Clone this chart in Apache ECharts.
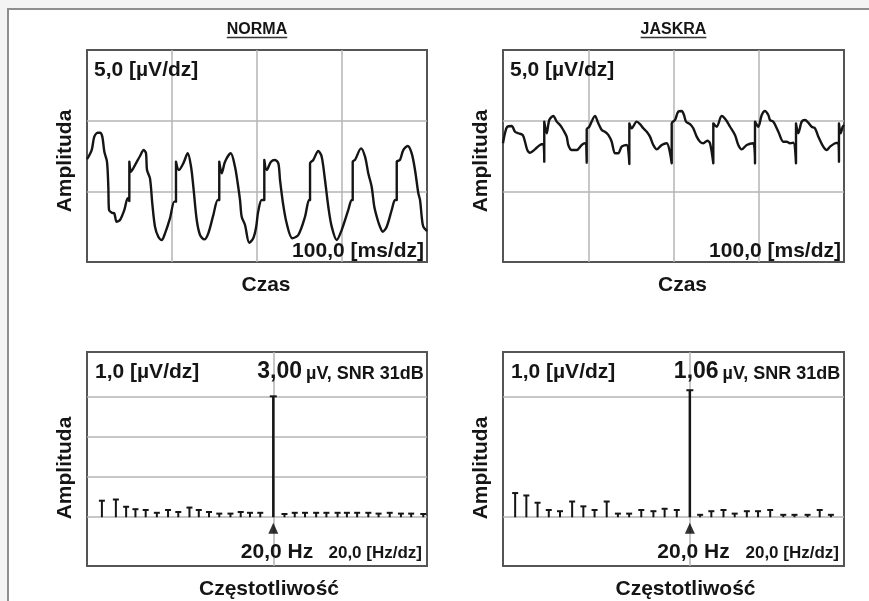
<!DOCTYPE html>
<html>
<head>
<meta charset="utf-8">
<script src="https://cdn.jsdelivr.net/npm/echarts@6/dist/echarts.min.js"></script>
<style>
  html, body { margin: 0; padding: 0; background: #fff; }
  #main { width: 869px; height: 601px; }
</style>
</head>
<body>
<div id="main"></div>
<script>
// ---- data ----
// time traces: [ms, µV], artefact spikes drawn as two points at the same time
var normaWave = [
  [0,-0.23],[5.5,0.42],[8.6,1.37],[12.6,1.65],[15.3,1.65],[18.0,1.37],[20.4,0.30],[23.5,-0.40],
  [25.1,-2.19],[25.9,-3.82],[29.1,-4.01],[32.1,-4.06],[34.9,-4.65],[38.8,-4.53],[43.9,-3.82],[47.9,-2.99],
  [49.8,-3.18],[49.8,-0.40],[51.8,-1.11],[56.5,-0.64],[62.4,0.00],[66.7,0.42],[69.4,0.19],[70.6,-0.99],
  [74.1,-1.58],[76.8,-3.35],[80.0,-5.00],[83.9,-5.71],[87.9,-5.94],[91.8,-5.47],[97.6,-4.41],[102.7,-3.23],
  [104.7,-3.23],[104.7,-0.40],[108.2,-0.99],[113.3,-0.52],[118.5,0.19],[122.4,-0.76],[125.1,-2.17],[129.1,-4.53],
  [133.0,-5.59],[138.0,-5.90],[142.7,-5.47],[148.6,-4.18],[153.8,-3.11],[155.6,-3.11],[155.6,-0.40],[158.5,-1.22],
  [162.4,-0.40],[169.1,0.19],[174.1,-0.76],[177.3,-1.93],[180.0,-3.11],[182.0,-4.30],[185.9,-4.88],[190.9,-6.14],
  [195.6,-5.82],[198.8,-5.10],[201.5,-3.90],[205.5,-3.11],[208.6,-3.11],[208.6,-0.28],[211.4,-0.99],[216.5,-0.40],
  [221.2,-0.28],[225.1,-0.52],[227.1,-1.70],[230.9,-3.47],[234.9,-4.76],[241.5,-5.82],[248.6,-5.59],[256.5,-4.30],
  [261.2,-3.11],[262.4,-3.11],[262.4,-0.52],[266.2,-0.28],[272.1,0.35],[276.1,-0.05],[280.0,-1.70],[283.9,-3.59],
  [287.9,-5.00],[293.8,-5.94],[299.6,-5.24],[307.4,-3.82],[311.4,-3.11],[312.6,-3.11],[312.6,-0.40],[315.3,-0.28],
  [322.4,0.54],[327.1,-0.05],[330.9,-1.22],[334.9,-2.17],[338.0,-3.59],[342.0,-4.53],[344.7,-5.00],[347.9,-5.36],
  [352.6,-5.00],[358.5,-3.82],[362.4,-3.11],[364.4,-3.11],[364.4,-0.40],[368.2,-0.28],[372.1,0.42],[377.3,0.71],
  [382.0,0.19],[385.9,-0.99],[389.8,-2.64],[391.8,-3.11],[393.8,-4.30],[395.6,-5.00],[400.0,-5.31]
];
var jaskraWave = [
  [0,0.90],[2.3,1.61],[5.0,2.07],[10.2,2.12],[14.1,1.72],[17.9,1.61],[23.1,1.49],[25.8,1.01],
  [28.5,0.42],[31.7,0.23],[37.5,0.47],[43.4,0.78],[47.3,0.85],[48.4,-0.40],[48.4,2.43],[51.3,1.61],
  [54.3,2.55],[59.0,2.83],[63.0,2.43],[66.9,2.19],[70.7,1.84],[74.7,1.37],[76.6,0.78],[80.6,0.42],
  [86.5,0.42],[92.3,0.78],[96.2,0.90],[98.2,-0.47],[98.2,1.90],[101.2,2.07],[107.9,2.83],[111.8,2.31],
  [115.8,1.84],[119.6,1.72],[123.5,1.49],[127.5,1.01],[131.4,0.19],[135.2,0.19],[139.2,0.66],[145.1,0.78],
  [148.2,-0.57],[148.2,2.31],[151.0,1.96],[156.8,2.43],[160.7,2.26],[164.6,1.96],[168.6,1.72],[172.4,1.37],
  [176.3,0.78],[180.3,0.47],[186.2,0.78],[192.0,0.90],[197.9,-0.52],[197.9,2.31],[201.8,2.55],[205.6,3.14],
  [209.6,3.18],[212.3,2.90],[214.7,2.43],[219.4,2.26],[223.2,1.96],[227.2,1.37],[231.1,1.01],[235.0,0.90],
  [239.6,1.08],[242.8,0.90],[246.7,-0.52],[246.7,2.31],[250.7,2.07],[256.5,2.83],[261.6,2.55],[266.3,2.07],
  [272.1,1.49],[276.0,0.78],[280.0,0.47],[285.9,0.78],[293.6,0.90],[295.6,-0.52],[295.6,2.43],[299.5,2.07],
  [303.5,2.90],[307.3,3.18],[311.2,2.90],[313.2,2.55],[317.1,2.43],[321.1,1.96],[323.0,1.72],[328.8,1.01],
  [332.8,1.01],[336.7,0.90],[340.5,0.94],[343.7,-0.52],[343.7,2.31],[346.4,1.61],[350.4,2.43],[354.3,2.55],
  [358.1,2.36],[362.1,2.07],[366.0,1.96],[369.9,1.37],[375.7,0.66],[379.7,0.42],[383.6,0.66],[389.5,0.90],
  [393.3,0.94],[394.1,-0.40],[394.1,2.31],[396.1,1.61],[398.5,2.07],[400.0,2.19]
];

// spectra: frequency [Hz] and amplitude [µV]
var normaFreq = [1.6,3.1,4.2,5.2,6.3,7.5,8.7,9.8,11.0,12.0,13.1,14.2,15.4,16.5,17.5,18.6,
  20.0,21.2,22.3,23.4,24.6,25.7,26.9,27.9,29.0,30.2,31.3,32.5,33.7,34.8,36.1];
var normaAmp = [0.41,0.44,0.26,0.20,0.18,0.11,0.18,0.13,0.24,0.18,0.13,0.09,0.09,0.13,0.11,0.11,
  3.00,0.08,0.11,0.11,0.11,0.11,0.11,0.11,0.11,0.11,0.09,0.11,0.09,0.09,0.08];
var jaskraFreq = [1.3,2.5,3.7,4.9,6.1,7.4,8.6,9.8,11.1,12.3,13.5,14.8,16.1,17.3,18.6,
  20.0,21.1,22.3,23.6,24.8,26.1,27.3,28.6,30.0,31.2,32.6,33.9,35.1];
var jaskraAmp = [0.20,0.18,0.12,0.06,0.05,0.13,0.09,0.06,0.13,0.03,0.03,0.06,0.05,0.07,0.06,
  1.05,0.02,0.05,0.06,0.03,0.05,0.05,0.06,0.02,0.02,0.02,0.06,0.02];
var stimFreq = 20;

// grid line positions (divisions)
var timeGridX = [100, 200, 300];
var timeGridY = [-2.5, 2.5];
var freqGridX = [20];
var normaSpecGridY = [0, 1, 2, 3];
var jaskraSpecGridY = [0, 1];

// texts
var panelTitles = ['NORMA', 'JASKRA'];
var peakValues = ['3,00', '1,06'];
var snrText = 'µV, SNR 31dB';

// ---- layout ----
var boxes = [
  { left: 87, top: 50, width: 340, height: 212 },
  { left: 503, top: 50, width: 341, height: 212 },
  { left: 87, top: 352, width: 340, height: 214 },
  { left: 503, top: 352, width: 341, height: 214 }
];
var FONT = '"Liberation Sans", Arial, sans-serif';
var INK = '#151515';

var chartDom = document.getElementById('main');
var myChart = echarts.init(chartDom);
var option;

var measure = document.createElement('canvas').getContext('2d');
function textWidth(s, size) {
  measure.font = 'bold ' + size + 'px ' + FONT;
  return measure.measureText(s).width;
}

function gridLines(idx, xs, ys) {
  return {
    type: 'line', xAxisIndex: idx, yAxisIndex: idx, data: [], silent: true, z: 1,
    markLine: {
      silent: true, symbol: 'none', animation: false, z: 1,
      label: { show: false },
      lineStyle: { color: '#b4b4b4', width: 1.5, type: 'solid' },
      data: xs.map(function (v) { return { xAxis: v }; })
        .concat(ys.map(function (v) { return { yAxis: v }; }))
    }
  };
}

function waveSeries(idx, pts) {
  return {
    type: 'line', xAxisIndex: idx, yAxisIndex: idx, data: pts,
    showSymbol: false, silent: true, z: 3, smooth: 0.3,
    lineStyle: { color: INK, width: 2.4, join: 'round' }
  };
}

function stemSeries(idx, freq, amp) {
  return {
    type: 'custom', xAxisIndex: idx, yAxisIndex: idx, silent: true, z: 3,
    data: freq.map(function (f, i) { return [f, amp[i]]; }),
    renderItem: function (params, api) {
      var f = api.value(0);
      var base = api.coord([f, 0]);
      var top = api.coord([f, api.value(1)]);
      var main = f === stimFreq;
      var half = main ? 3.5 : 3;
      return {
        type: 'group',
        children: [
          { type: 'line', shape: { x1: base[0], y1: base[1], x2: top[0], y2: top[1] },
            style: { stroke: INK, lineWidth: main ? 2.5 : 2 } },
          { type: 'line', shape: { x1: top[0] - half, y1: top[1], x2: top[0] + half, y2: top[1] },
            style: { stroke: INK, lineWidth: 2 } }
        ]
      };
    }
  };
}

function markerSeries(idx) {
  return {
    type: 'scatter', xAxisIndex: idx, yAxisIndex: idx, silent: true, z: 4,
    data: [[stimFreq, 0]], symbol: 'triangle', symbolSize: [10, 11], symbolOffset: [0, 11],
    itemStyle: { color: '#000' }
  };
}

function label(text, x, y, size, align, extra) {
  var el = {
    type: 'text', x: x, y: y, z: 10, silent: true,
    style: {
      text: text, font: 'bold ' + size + 'px ' + FONT, fill: INK,
      textAlign: align, align: align, textVerticalAlign: 'middle', verticalAlign: 'middle'
    }
  };
  if (extra) { for (var k in extra) el[k] = extra[k]; }
  return el;
}

var graphics = [
  { type: 'rect', shape: { x: 0, y: 0, width: 869, height: 8 }, style: { fill: '#f4f4f4' }, silent: true },
  { type: 'rect', shape: { x: 0, y: 0, width: 7, height: 601 }, style: { fill: '#f4f4f4' }, silent: true },
  { type: 'line', shape: { x1: 7, y1: 9, x2: 869, y2: 9 }, style: { stroke: '#8e8e8e', lineWidth: 2 }, silent: true },
  { type: 'line', shape: { x1: 8, y1: 9, x2: 8, y2: 601 }, style: { stroke: '#8e8e8e', lineWidth: 2 }, silent: true }
];

[0, 1].forEach(function (i) {
  var b = boxes[i], s = boxes[i + 2];
  var cx = b.left + b.width / 2;
  var tw = textWidth(panelTitles[i], 16);
  graphics.push(label(panelTitles[i], cx, 30, 16, 'center'));
  graphics.push({ type: 'line', silent: true,
    shape: { x1: cx - tw / 2, y1: 37.5, x2: cx + tw / 2, y2: 37.5 },
    style: { stroke: '#333', lineWidth: 1.5 } });
  // time panel
  graphics.push(label('Amplituda', b.left - 22, 161, 21, 'center', { rotation: Math.PI / 2 }));
  graphics.push(label('5,0 [µV/dz]', b.left + 7, b.top + 20, 21, 'left'));
  graphics.push(label('100,0 [ms/dz]', b.left + b.width - 3, b.top + b.height - 11, 21, 'right'));
  graphics.push(label('Czas', cx + 9, 285, 21, 'center'));
  // spectrum panel
  var scx = s.left + s.width / 2;
  var gx = s.left + s.width * stimFreq / 36.5;
  graphics.push(label('Amplituda', s.left - 22, 468, 21, 'center', { rotation: Math.PI / 2 }));
  graphics.push(label('1,0 [µV/dz]', s.left + 8, s.top + 20, 21, 'left'));
  graphics.push(label(peakValues[i], gx - 16, s.top + 20, 23, 'left'));
  graphics.push(label(snrText, gx - 16 + textWidth(peakValues[i], 23) + 4, s.top + 22, 18, 'left'));
  graphics.push(label('20,0 Hz', gx - 32.5, 552.5, 21, 'left'));
  graphics.push(label('20,0 [Hz/dz]', s.left + s.width - 5, 553, 17, 'right'));
  graphics.push(label('Częstotliwość', scx + 12, 589, 21, 'center'));
});

var yRanges = [[-7.5, 7.5], [-7.5, 7.5], [-1.21, 4.1], [-0.403, 1.366]];
var xRanges = [[0, 400], [0, 400], [0, 36.5], [0, 36.5]];

option = {
  animation: false,
  backgroundColor: '#fff',
  grid: boxes.map(function (b) {
    return { left: b.left, top: b.top, width: b.width, height: b.height,
      show: true, borderColor: '#555', borderWidth: 2, backgroundColor: 'transparent' };
  }),
  xAxis: xRanges.map(function (r, i) {
    return { type: 'value', gridIndex: i, min: r[0], max: r[1], show: false };
  }),
  yAxis: yRanges.map(function (r, i) {
    return { type: 'value', gridIndex: i, min: r[0], max: r[1], show: false };
  }),
  series: [
    gridLines(0, timeGridX, timeGridY),
    gridLines(1, timeGridX, timeGridY),
    gridLines(2, freqGridX, normaSpecGridY),
    gridLines(3, freqGridX, jaskraSpecGridY),
    waveSeries(0, normaWave),
    waveSeries(1, jaskraWave),
    stemSeries(2, normaFreq, normaAmp),
    stemSeries(3, jaskraFreq, jaskraAmp),
    markerSeries(2),
    markerSeries(3)
  ],
  graphic: graphics
};

option && myChart.setOption(option);
</script>
</body>
</html>
